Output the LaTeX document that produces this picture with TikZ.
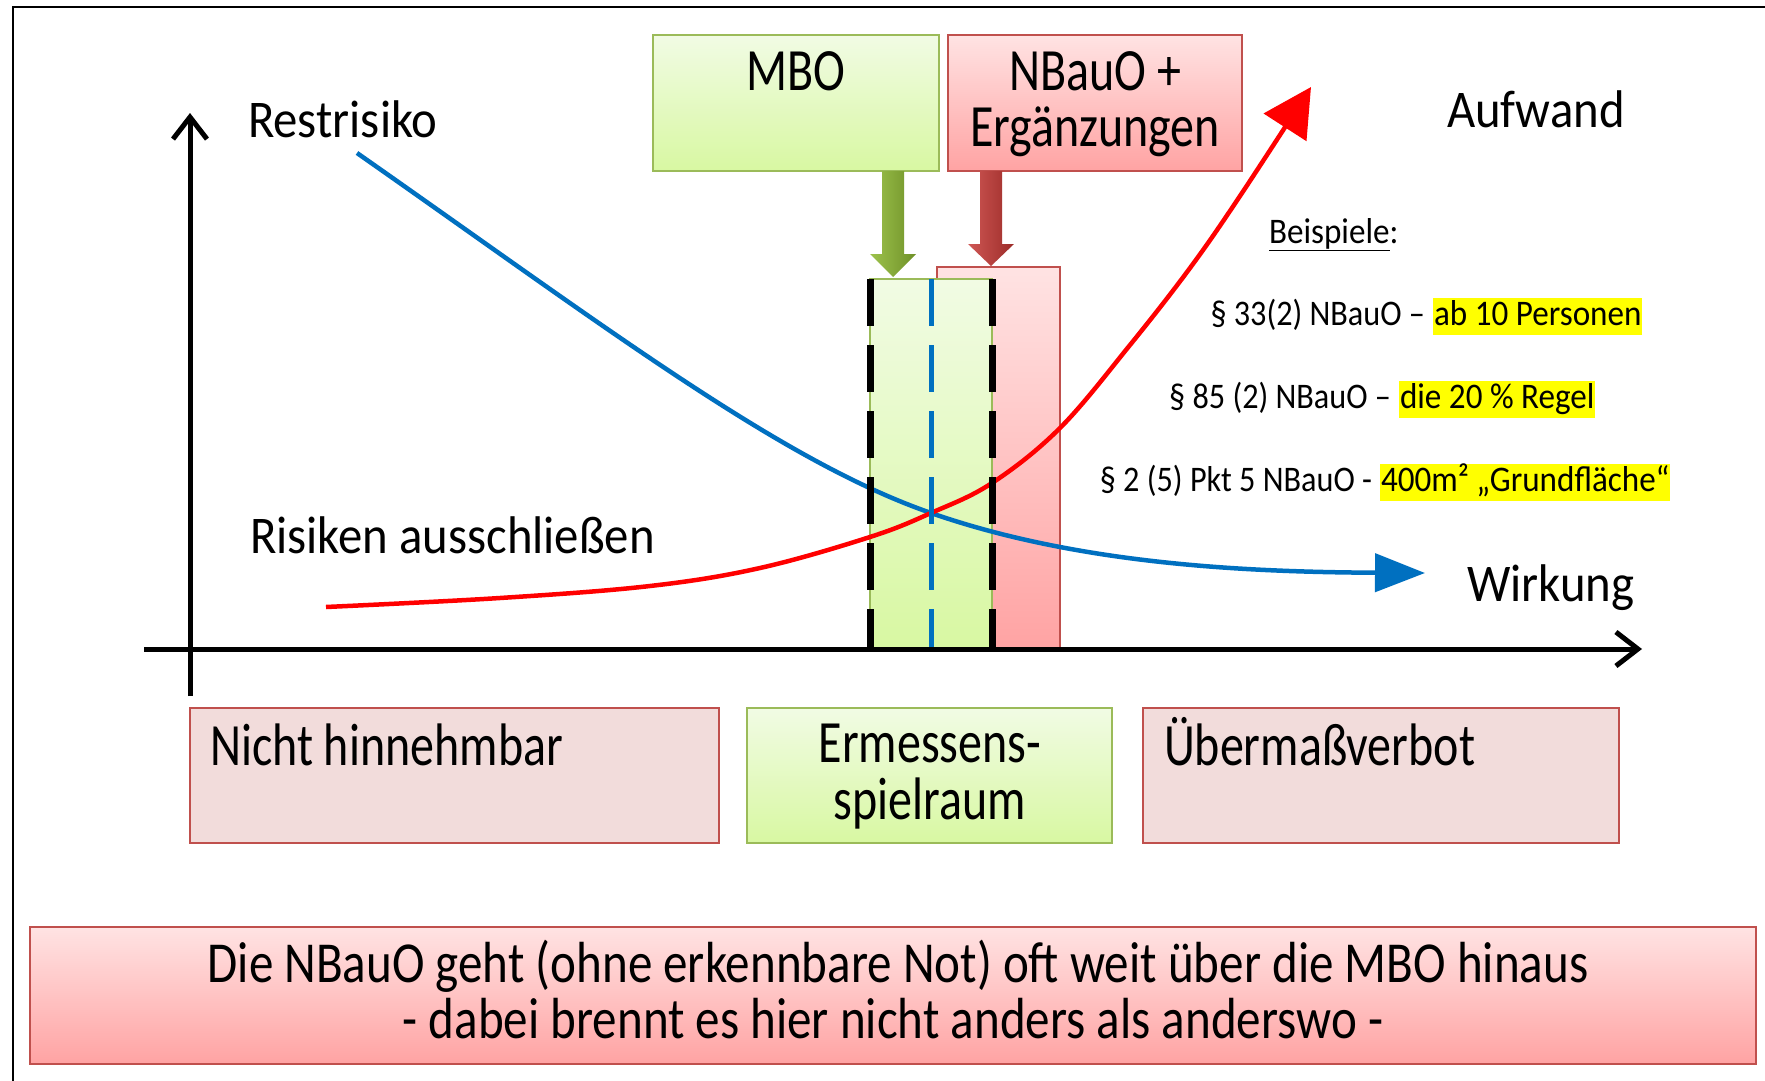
\documentclass[tikz,border=0pt]{standalone}
\usepackage{fontspec}
\setmainfont{Carlito}
\newfontfamily\fontNarrow{Carlito}[FakeStretch=0.8]
\newfontfamily\fontBigN{Carlito}[FakeStretch=0.846]
\newfontfamily\fontMid{Carlito}[FakeStretch=0.92]
\newfontfamily\fontExP{Carlito}[FakeStretch=0.895]
\usetikzlibrary{arrows.meta,calc}
\definecolor{gbord}{HTML}{9BBB59}
\definecolor{gtop}{HTML}{F1FBE4}
\definecolor{gbot}{HTML}{D8F8A2}
\definecolor{rbord}{HTML}{C0504D}
\definecolor{rtop}{HTML}{FFE3E3}
\definecolor{rbot}{HTML}{FFA3A3}
\definecolor{rflat}{HTML}{F2DCDB}
\definecolor{cblue}{HTML}{0070C0}
\definecolor{cred}{HTML}{FF0000}
\definecolor{hl}{HTML}{FFFF00}
\definecolor{garL}{HTML}{9DC24C}
\definecolor{garR}{HTML}{6F9128}
\definecolor{rarL}{HTML}{CF5855}
\definecolor{rarR}{HTML}{9C2B28}
\newcommand\fBox{\fontNarrow\fontsize{60}{60}\selectfont}
\newcommand\fBig{\fontBigN\fontsize{58}{58}\selectfont}
\newcommand\fFree{\fontMid\fontsize{53}{53}\selectfont}
\newcommand\fEx{\fontMid\fontsize{36}{36}\selectfont}
\newcommand\fExP{\fontExP\fontsize{36}{36}\selectfont}
\begin{document}
\begin{tikzpicture}[x=1pt,y=-1pt,
  every node/.style={inner sep=0pt, outer sep=0pt},
  greenbox/.style={draw=gbord, line width=2, top color=gtop, bottom color=gbot},
  redbox/.style={draw=rbord, line width=2, top color=rtop, bottom color=rbot},
  flatred/.style={draw=rbord, line width=2, fill=rflat},
  axisline/.style={line width=5, -{Straight Barb[length=22pt,width=34pt,line width=5pt]}},
  hlbox/.style={fill=hl, text height=26pt, text depth=9pt, inner xsep=1pt, inner ysep=1pt, anchor=base west},
  bdash/.style={line width=7, dash pattern=on 47pt off 19pt}]
\useasboundingbox (0,0) rectangle (1765,1081);
\fill[white] (0,0) rectangle (1765,1081);
% frame
\draw[line width=2.5] (13,1081) -- (13,7) -- (1765,7);

% top boxes
\node[greenbox, minimum width=286, minimum height=136, anchor=north west] (mbo) at (653,35) {};
\node[anchor=base] (mbot) at (796,90) {\fBox MBO};
\node[redbox, minimum width=294, minimum height=136, anchor=north west] (nbo) at (948,35) {};
\node[anchor=base] (nbot1) at (1095,90) {\fBox NBauO +};
\node[anchor=base] (nbot2) at (1095,146) {\fBox Ergänzungen};

% chart rectangles
\node[redbox, line width=1.5, minimum width=123, minimum height=382, anchor=north west] (rrect) at (937,267) {};
\node[greenbox, line width=1.5, minimum width=122, minimum height=370, anchor=north west] (grect) at (870,279) {};

% block arrows
\shade[left color=garL, right color=garR]
  (882,171) -- (904,171) -- (904,254) -- (916,254) -- (893,277) -- (870,254) -- (882,254) -- cycle;
\shade[left color=rarL, right color=rarR]
  (980,171) -- (1002,171) -- (1002,244) -- (1014,244) -- (991,266) -- (968,244) -- (980,244) -- cycle;

% curves
\coordinate (bs) at (357,153);
\coordinate (xc) at (931,513);
\coordinate (be) at (1425,573);
\draw[cblue, line width=4.5, -{Triangle[length=50pt,width=38pt]}]
  (bs) .. controls (607,328) and (781,461) .. (xc) .. controls (1080,565) and (1250,572) .. (be);
\draw[cred, line width=4.5, -{Triangle[length=48pt,width=50pt]}]
  plot[smooth, tension=0.6] coordinates {(326,607) (500,598) (650,586) (760,568) (870,537) (931,513) (992,483) (1060,428) (1130,345) (1190,268) (1240,196) (1311,87)};

% dashed lines
\draw[bdash, black] (870,279) -- (870,649);
\draw[bdash, black] (992,279) -- (992,649);
\draw[cblue, line width=5, dash pattern=on 47pt off 19pt] (931,279) -- (931,649);

% axes
\draw[axisline] (144,649) -- (1642,649);
\draw[axisline] (190,696) -- (190,113);

% free labels
\node[anchor=base west] (lrest) at (248,137) {\fFree Restrisiko};
\node[anchor=base west] (lris) at (250,553) {\fFree Risiken ausschließen};
\node[anchor=base west] (lauf) at (1447,128) {\fFree Aufwand};
\node[anchor=base west] (lwir) at (1467,601) {\fFree Wirkung};

% examples
\node[anchor=base west] (bsp) at (1269,243) {\fEx\underline{Beispiele}:};
\node[hlbox] (e1b) at (1433,325) {\fEx ab 10 Personen};
\node[anchor=base east] (e1a) at ([xshift=-8pt]e1b.base west) {\fExP § 33(2) NBauO –};
\node[hlbox] (e2b) at (1399,408) {\fEx die 20 \% Regel};
\node[anchor=base east] (e2a) at ([xshift=-8pt]e2b.base west) {\fExP § 85 (2) NBauO –};
\node[hlbox] (e3b) at (1380,491) {\fEx 400m² „Grundfläche“};
\node[anchor=base east] (e3a) at ([xshift=-8pt]e3b.base west) {\fExP § 2 (5) Pkt 5 NBauO -};

% bottom boxes
\node[flatred, minimum width=529, minimum height=135, anchor=north west] (nicht) at (190,708) {};
\node[anchor=base west] (nichtt) at (210,765) {\fBox Nicht hinnehmbar};
\node[greenbox, minimum width=365, minimum height=135, anchor=north west] (erm) at (747,708) {};
\node[anchor=base] (ermt1) at (930,762) {\fBox Ermessens-};
\node[anchor=base] (ermt2) at (930,819) {\fBox spielraum};
\node[flatred, minimum width=476, minimum height=135, anchor=north west] (ueb) at (1143,708) {};
\node[anchor=base west] (uebt) at (1164,765) {\fBox Übermaßverbot};

% big bottom box
\node[redbox, minimum width=1726, minimum height=137, anchor=north west] (big) at (30,927) {};
\node[anchor=base] (bigt1) at (898,982) {\fBig Die NBauO geht (ohne erkennbare Not) oft weit über die MBO hinaus};
\node[anchor=base] (bigt2) at (893,1038) {\fBig - dabei brennt es hier nicht anders als anderswo -};
\end{tikzpicture}
\end{document}
